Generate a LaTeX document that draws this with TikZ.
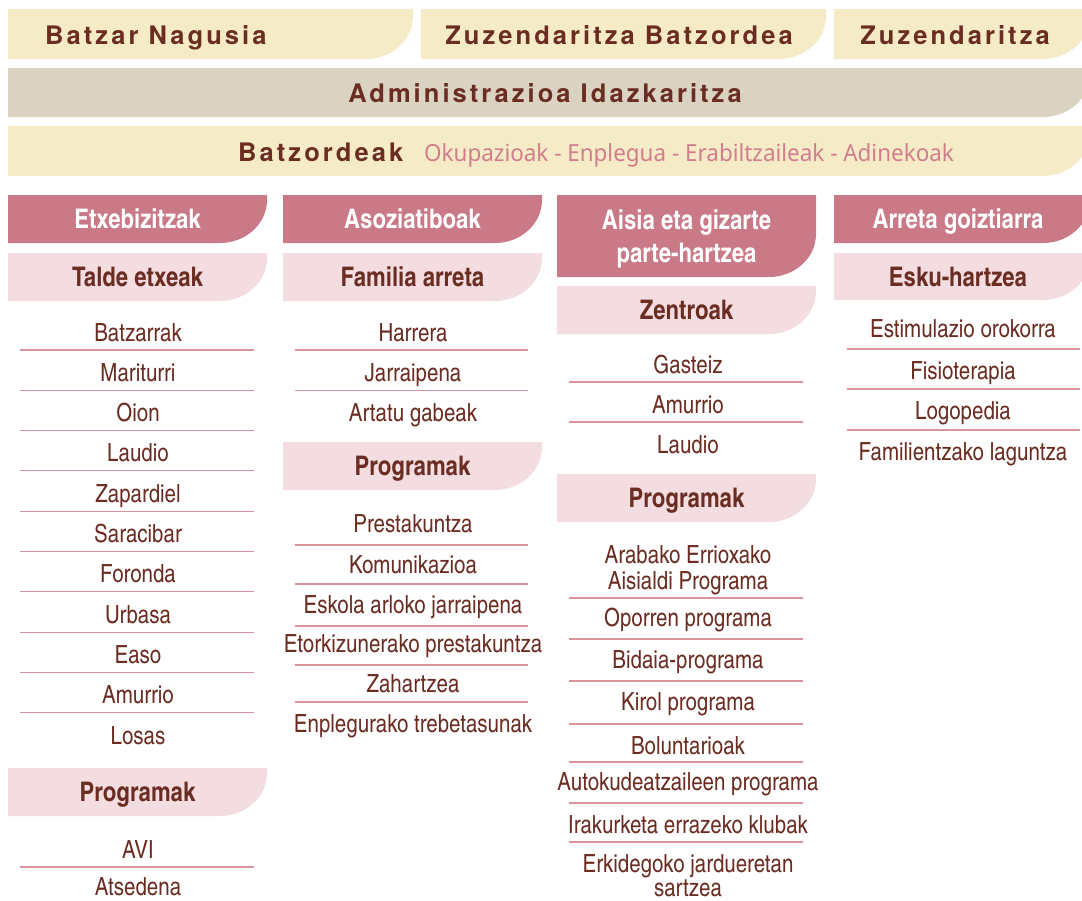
\documentclass[tikz,border=0pt]{standalone}
\usepackage{fontspec}
\setmainfont{Noto Sans}
\newfontfamily\condreg[Extension=.otf, UprightFont=*-regular, BoldFont=*-bold]{texgyreheroscn}
\newfontfamily\bannerfont[LetterSpace=12]{TeX Gyre Heros}
\newfontfamily\pinkfont[FakeStretch=0.955]{Noto Sans}
\definecolor{cBeige}{HTML}{F6EBC7}
\definecolor{cGrey}{HTML}{DBD3C2}
\definecolor{cRose}{HTML}{C97A86}
\definecolor{cBlush}{HTML}{F3DDE0}
\definecolor{cBrown}{HTML}{6B2C22}
\definecolor{cPink}{HTML}{D27D8E}
\definecolor{cLine}{HTML}{D8949D}
\newcommand{\tabshape}[5]{%
  \fill[#5] (#1,#2) -- (#3,#2) -- (#3,#4-43) .. controls (#3,#4-19.3) and (#3-21,#4) .. (#3-47,#4) -- (#1,#4) -- cycle;}
\begin{document}
\begin{tikzpicture}[x=1pt,y=-1pt,
  itemtxt/.style={font=\condreg\fontsize{25}{30}\selectfont, text=cBrown, anchor=base, inner sep=0pt},
  headtxt/.style={font=\condreg\bfseries\fontsize{27}{32}\selectfont, text=white, anchor=base, inner sep=0pt},
  subtxt/.style={font=\condreg\bfseries\fontsize{27}{32}\selectfont, text=cBrown, anchor=base, inner sep=0pt},
  bantxt/.style={font=\bannerfont\bfseries\fontsize{25.5}{30}\selectfont, text=cBrown, anchor=base, inner sep=0pt},
  pinktxt/.style={font=\pinkfont\fontsize{23.5}{28}\selectfont, text=cPink, anchor=base west, inner sep=0pt},
  septline/.style={draw=cLine, line width=1.1pt}]
\useasboundingbox (0,0) rectangle (1082,900);
\fill[white] (0,0) rectangle (1082,900);
\clip (0,0) rectangle (1082,900);
% ---------- banners ----------
\tabshape{8}{9}{413}{59}{cBeige}
\tabshape{421}{9}{826}{59}{cBeige}
\tabshape{834}{9}{1090}{59}{cBeige}
\tabshape{8}{68}{1090}{117}{cGrey}
\tabshape{8}{126}{1090}{176}{cBeige}
\node[bantxt, anchor=base west] (bn) at (45,44.5) {Batzar Nagusia};
\node[bantxt] (zb) at (619,44.5) {Zuzendaritza Batzordea};
\node[bantxt] (zu) at (955,44.5) {Zuzendaritza};
\node[bantxt] (ai) at (545,102) {Administrazioa Idazkaritza};
\node[bantxt, anchor=base west] (bz) at (238,161.5) {Batzordeak};
\node[pinktxt] (bzl) at (424,161.5) {Okupazioak - Enplegua - Erabiltzaileak - Adinekoak};
% ---------- column 1 ----------
\tabshape{8}{195}{267}{243}{cRose}
\node[headtxt] (h1) at (137.5,228.5) {Etxebizitzak};
\tabshape{8}{253}{267}{301}{cBlush}
\node[subtxt] (s1a) at (137.5,286) {Talde etxeak};
\foreach \t [count=\k from 0] in {Batzarrak,Mariturri,Oion,Laudio,Zapardiel,Saracibar,Foronda,Urbasa,Easo,Amurrio,Losas}
  \node[itemtxt] (c1i\k) at (138,341+40.3*\k) {\t};
\foreach \k in {0,...,9}
  \draw[septline] (20,350+40.3*\k) -- (254,350+40.3*\k);
\tabshape{8}{768}{267}{816}{cBlush}
\node[subtxt] (s1b) at (137.5,801.5) {Programak};
\node[itemtxt] (c1p1) at (138,858) {AVI};
\draw[septline] (20,867) -- (254,867);
\node[itemtxt] (c1p2) at (138,895) {Atsedena};
% ---------- column 2 ----------
\tabshape{283}{195}{542}{243}{cRose}
\node[headtxt] (h2) at (412.5,228.5) {Asoziatiboak};
\tabshape{283}{253}{542}{301}{cBlush}
\node[subtxt] (s2a) at (412.5,286) {Familia arreta};
\node[itemtxt] (c2a1) at (413,341) {Harrera};
\draw[septline] (295,350) -- (528,350);
\node[itemtxt] (c2a2) at (413,381) {Jarraipena};
\draw[septline] (295,390.3) -- (528,390.3);
\node[itemtxt] (c2a3) at (413,421.6) {Artatu gabeak};
\tabshape{283}{442}{542}{490}{cBlush}
\node[subtxt] (s2b) at (412.5,475.5) {Programak};
\node[itemtxt] (c2b1) at (413,532) {Prestakuntza};
\draw[septline] (295,545) -- (528,545);
\node[itemtxt] (c2b2) at (413,573) {Komunikazioa};
\draw[septline] (295,584) -- (528,584);
\node[itemtxt] (c2b3) at (413,613) {Eskola arloko jarraipena};
\draw[septline] (295,626) -- (528,626);
\node[itemtxt] (c2b4) at (413,652) {Etorkizunerako prestakuntza};
\draw[septline] (295,665) -- (528,665);
\node[itemtxt] (c2b5) at (413,692) {Zahartzea};
\draw[septline] (295,702) -- (528,702);
\node[itemtxt] (c2b6) at (413,732) {Enplegurako trebetasunak};
% ---------- column 3 ----------
\tabshape{557}{195}{816}{277}{cRose}
\node[headtxt] (h3a) at (686.5,229.5) {Aisia eta gizarte};
\node[headtxt] (h3b) at (686.5,262) {parte-hartzea};
\tabshape{557}{286}{816}{334}{cBlush}
\node[subtxt] (s3a) at (686.5,319.5) {Zentroak};
\node[itemtxt] (c3a1) at (688,373) {Gasteiz};
\draw[septline] (569,382) -- (803,382);
\node[itemtxt] (c3a2) at (688,413) {Amurrio};
\draw[septline] (569,422) -- (803,422);
\node[itemtxt] (c3a3) at (688,453) {Laudio};
\tabshape{557}{474}{816}{522}{cBlush}
\node[subtxt] (s3b) at (686.5,507.5) {Programak};
\node[itemtxt] (c3b1a) at (688,563) {Arabako Errioxako};
\node[itemtxt] (c3b1b) at (688,589) {Aisialdi Programa};
\draw[septline] (569,598) -- (803,598);
\node[itemtxt] (c3b2) at (688,626) {Oporren programa};
\draw[septline] (569,639) -- (803,639);
\node[itemtxt] (c3b3) at (688,668) {Bidaia-programa};
\draw[septline] (569,681) -- (803,681);
\node[itemtxt] (c3b4) at (688,710) {Kirol programa};
\draw[septline] (569,724) -- (803,724);
\node[itemtxt] (c3b5) at (688,754) {Boluntarioak};
\draw[septline] (569,762) -- (803,762);
\node[itemtxt] (c3b6) at (688,790) {Autokudeatzaileen programa};
\draw[septline] (569,803) -- (803,803);
\node[itemtxt] (c3b7) at (688,833) {Irakurketa errazeko klubak};
\draw[septline] (569,842) -- (803,842);
\node[itemtxt] (c3b8a) at (688,872) {Erkidegoko jardueretan};
\node[itemtxt] (c3b8b) at (688,896) {sartzea};
% ---------- column 4 ----------
\tabshape{834}{195}{1090}{243}{cRose}
\node[headtxt] (h4) at (958,228.5) {Arreta goiztiarra};
\tabshape{834}{253}{1090}{300}{cBlush}
\node[subtxt] (s4a) at (958,286) {Esku-hartzea};
\node[itemtxt] (c4a1) at (963,337) {Estimulazio orokorra};
\draw[septline] (847,349) -- (1080,349);
\node[itemtxt] (c4a2) at (963,379) {Fisioterapia};
\draw[septline] (847,389) -- (1080,389);
\node[itemtxt] (c4a3) at (963,419) {Logopedia};
\draw[septline] (847,430) -- (1080,430);
\node[itemtxt] (c4a4) at (963,460) {Familientzako laguntza};
\end{tikzpicture}
\end{document}
